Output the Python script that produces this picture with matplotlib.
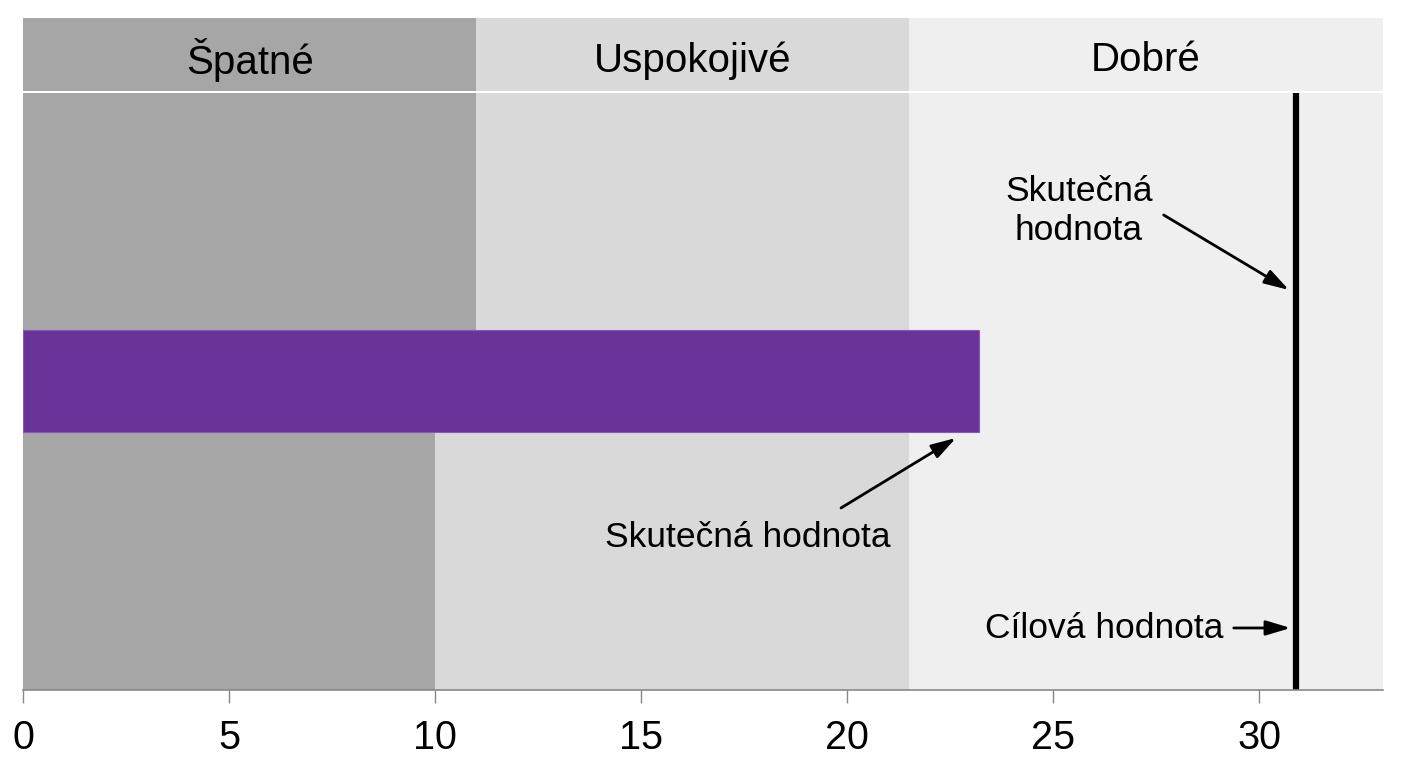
import numpy as np
import matplotlib.pyplot as plt

plt.rcParams['font.family'] = ['Liberation Sans', 'DejaVu Sans']

# qualitative ranges
categories = ['Špatné', 'Uspokojivé', 'Dobré']
upper_edges = [0, 11, 21.5, 33]
lower_edges = [0, 10, 21.5, 33]
band_colors = ['#a6a6a6', '#d9d9d9', '#efefef']

actual_value = 23.2
target_value = 30.9

xticks = [0, 5, 10, 15, 20, 25, 30]

# vertical layout (arbitrary units)
bar_bottom, bar_top = 2.58, 3.60
bar_mid = (bar_bottom + bar_top) / 2
plot_top = 5.97
header_bottom, header_top = 5.99, 6.72

fig = plt.figure(figsize=(14.08, 7.68), dpi=100)
ax = fig.add_axes([0.0163, 0.1016, 0.9659, 0.875])
ax.set_facecolor('white')

# background bands
for i in range(len(categories)):
    ax.barh(bar_mid / 2, lower_edges[i + 1] - lower_edges[i], left=lower_edges[i],
            height=bar_mid, color=band_colors[i], align='center', lw=0)
    ax.barh((bar_mid + plot_top) / 2, upper_edges[i + 1] - upper_edges[i], left=upper_edges[i],
            height=plot_top - bar_mid, color=band_colors[i], align='center', lw=0)
    ax.barh((header_bottom + header_top) / 2, upper_edges[i + 1] - upper_edges[i],
            left=upper_edges[i], height=header_top - header_bottom,
            color=band_colors[i], align='center', lw=0)
    ax.text((upper_edges[i] + upper_edges[i + 1]) / 2, (header_bottom + header_top) / 2 - 0.06,
            categories[i], ha='center', va='center', fontsize=29, color='black')

# actual value bar
ax.barh(bar_mid, actual_value, left=0, height=bar_top - bar_bottom,
        color='#6a3399', edgecolor='#8a5ab0', lw=0.8)

# target line
ax.plot([target_value, target_value], [0, plot_top], color='black', lw=4.5, solid_capstyle='butt')

arrow = dict(arrowstyle='-|>,head_length=0.5,head_width=0.15', color='black', lw=2,
             mutation_scale=30, shrinkA=0, shrinkB=0)

ax.text(25.62, 4.79, 'Skutečná\nhodnota', ha='center', va='center', fontsize=25.5, linespacing=1.2)
ax.annotate('', xy=(30.72, 4.0), xytext=(27.68, 4.75), arrowprops=arrow)

ax.text(17.58, 1.52, 'Skutečná hodnota', ha='center', va='center', fontsize=25.5)
ax.annotate('', xy=(22.64, 2.52), xytext=(19.85, 1.82), arrowprops=arrow)

ax.text(26.23, 0.61, 'Cílová hodnota', ha='center', va='center', fontsize=25.5)
ax.annotate('', xy=(30.76, 0.62), xytext=(29.38, 0.62), arrowprops=arrow)

ax.set_xlim(0, 33)
ax.set_ylim(0, header_top)
ax.set_xticks(xticks)
ax.set_yticks([])
for side in ['top', 'right', 'left']:
    ax.spines[side].set_visible(False)
ax.spines['bottom'].set_color('#888888')
ax.spines['bottom'].set_linewidth(1.2)
ax.tick_params(axis='x', length=9, width=1, color='#888888', labelsize=28.5, pad=12)

fig.savefig('out.png', dpi=100)
